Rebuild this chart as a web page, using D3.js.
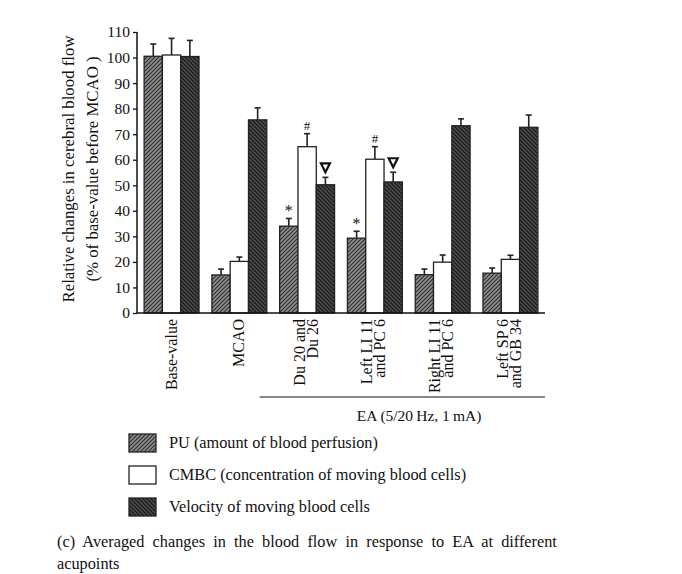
<!DOCTYPE html>
<html><head><meta charset="utf-8">
<script src="https://cdn.jsdelivr.net/npm/d3@7"></script>
<style>body{margin:0;background:#fff}svg{display:block}</style>
</head><body>
<svg id="c" width="682" height="574"></svg>
<script>
const categories = [["Base-value"],["MCAO"],["Du 20 and","Du 26"],["Left LI 11","and PC 6"],["Right LI 11","and PC 6"],["Left SP 6","and GB 34"]];
const seriesNames = ["PU (amount of blood perfusion)","CMBC (concentration of moving blood cells)","Velocity of moving blood cells"];
const puValues   = [100.5, 14.9, 34.0, 29.3, 15.0, 15.6];
const puErr      = [4.8, 2.3, 3.0, 2.7, 2.2, 2.0];
const cmbcValues = [101.0, 20.2, 65.1, 60.2, 19.9, 21.0];
const cmbcErr    = [6.5, 1.7, 5.1, 4.9, 2.8, 1.6];
const velValues  = [100.4, 75.6, 50.2, 51.3, 73.3, 72.7];
const velErr     = [6.3, 4.7, 2.9, 3.8, 2.7, 4.8];
const yTicks = [0,10,20,30,40,50,60,70,80,90,100,110];
const marks = [null,null,["*","#","tri"],["*","#","tri"],null,null];

const svg = d3.select("#c");
const font = "'Liberation Serif', 'DejaVu Serif', serif";

const defs = svg.append("defs");
function hatch(id, bg, fg, dir){
  const p = defs.append("pattern").attr("id",id).attr("patternUnits","userSpaceOnUse")
    .attr("width",4).attr("height",4);
  p.append("rect").attr("width",4).attr("height",4).attr("fill",bg);
  const d = dir>0 ? "M-1,1 l2,-2 M0,4 l4,-4 M3,5 l2,-2" : "M-1,3 l2,2 M0,0 l4,4 M3,-1 l2,2";
  p.append("path").attr("d",d).attr("stroke",fg).attr("stroke-width",1.1);
}
hatch("hPU","#8c8c8c","#2e2e2e",1);
hatch("hVel","#4a4a4a","#151515",-1);
const fills = ["url(#hPU)","#ffffff","url(#hVel)"];

const y = d3.scaleLinear().domain([0,110]).range([313,32]);
const x0 = d3.scaleBand().domain(d3.range(categories.length)).range([137,545]).paddingInner(0.19).paddingOuter(0.105);
const x1 = d3.scaleBand().domain([0,1,2]).range([0,x0.bandwidth()]);

const series = [
  {v:puValues,e:puErr},{v:cmbcValues,e:cmbcErr},{v:velValues,e:velErr}
];

const g = svg.append("g");
series.forEach((s,si)=>{
  s.v.forEach((val,ci)=>{
    const bx = x0(ci)+x1(si), bw = x1.bandwidth();
    const cx = bx+bw/2;
    const top = y(val+s.e[ci]);
    g.append("line").attr("x1",cx).attr("x2",cx).attr("y1",y(val)).attr("y2",top)
      .attr("stroke","#222").attr("stroke-width",1.6);
    g.append("line").attr("x1",cx-3).attr("x2",cx+3).attr("y1",top).attr("y2",top)
      .attr("stroke","#222").attr("stroke-width",1.6);
    g.append("rect").attr("x",bx).attr("y",y(val)).attr("width",bw).attr("height",y(0)-y(val))
      .attr("fill",fills[si]).attr("stroke","#222").attr("stroke-width",1.3);
    const m = marks[ci] && marks[ci][si];
    if(m){
      if(m==="tri"){
        const ty = top-10;
        g.append("path").attr("d",`M${cx-4.5},${ty-4} L${cx+4.5},${ty-4} L${cx},${ty+5} Z`)
          .attr("fill","none").attr("stroke","#111").attr("stroke-width",2.2).attr("stroke-linejoin","miter");
      } else {
        g.append("text").attr("x",cx).attr("y",top-(m==="*"?2:4)).attr("text-anchor","middle")
          .attr("font-family",font).attr("font-size",m==="*"?16:13).attr("fill","#111").text(m);
      }
    }
  });
});

// axes
const yAxis = svg.append("g").attr("transform","translate(137,0)")
  .call(d3.axisLeft(y).tickValues(yTicks).tickSize(4).tickPadding(3));
yAxis.select(".domain").attr("stroke","#111").attr("stroke-width",1.5).attr("d","M0,313V32");
yAxis.selectAll(".tick line").attr("stroke","#111").attr("stroke-width",1.3);
yAxis.selectAll(".tick text").attr("font-family",font).attr("font-size",15.5).attr("fill","#111");

svg.append("line").attr("x1",137).attr("x2",545).attr("y1",313).attr("y2",313)
  .attr("stroke","#111").attr("stroke-width",1.5);

// y label
const yl = svg.append("text").attr("transform","rotate(-90)")
  .attr("font-family",font).attr("font-size",16.8).attr("fill","#111").attr("text-anchor","middle");
yl.append("tspan").attr("x",-169).attr("y",74).text("Relative changes in cerebral blood flow");
yl.append("tspan").attr("x",-169).attr("y",98).text("(% of base-value before MCAO )");

// category labels
categories.forEach((lines,ci)=>{
  const cx = x0(ci)+x0.bandwidth()/2;
  const n = lines.length;
  lines.forEach((ln,li)=>{
    const lx = n===1 ? cx + 5 : cx + (li-0.5)*13 + 4;
    svg.append("text").attr("transform",`translate(${lx},319) rotate(-90)`)
      .attr("text-anchor","end").attr("font-family",font).attr("font-size",16).attr("fill","#111").text(ln);
  });
});

// EA bracket
svg.append("line").attr("x1",x0(2)-20).attr("x2",545).attr("y1",397).attr("y2",397)
  .attr("stroke","#111").attr("stroke-width",1.2);
svg.append("text").attr("x",419).attr("y",421).attr("text-anchor","middle")
  .attr("font-family",font).attr("font-size",15.5).attr("fill","#111").text("EA (5/20\u2009Hz, 1\u2009mA)");

// legend
seriesNames.forEach((nm,i)=>{
  const ly = 434 + i*32;
  svg.append("rect").attr("x",129).attr("y",ly).attr("width",27).attr("height",18)
    .attr("fill",fills[i]).attr("stroke","#222").attr("stroke-width",1.3);
  svg.append("text").attr("x",169).attr("y",ly+14).attr("font-family",font).attr("font-size",16.3)
    .attr("fill","#111").text(nm);
});

// caption (justified via word-spacing)
const cap = svg.append("text").attr("x",57).attr("y",547).attr("font-family",font).attr("font-size",16.3)
  .attr("fill","#111").text("(c)  Averaged changes in the blood flow in response to EA at different");
const natural = cap.node().getComputedTextLength();
const nSp = (cap.text().match(/ /g)||[]).length;
cap.attr("word-spacing", Math.max(0,(504-natural)/nSp));
svg.append("text").attr("x",57).attr("y",569).attr("font-family",font).attr("font-size",16.3)
  .attr("fill","#111").text("acupoints");
</script>
</body></html>
